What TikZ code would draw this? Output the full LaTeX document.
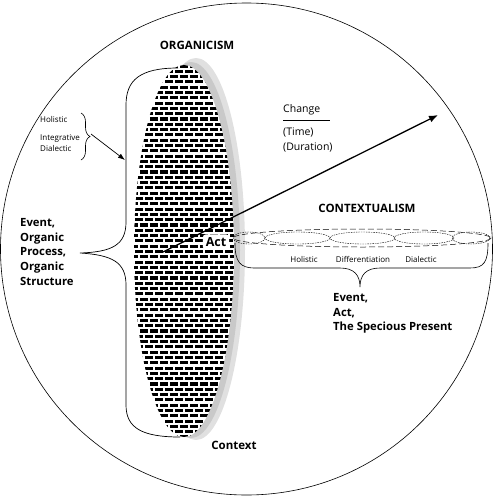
\documentclass[tikz,border=0pt]{standalone}
\usepackage{fontspec}
\setmainfont{Open Sans}
\usetikzlibrary{arrows,arrows.meta,decorations.pathreplacing,calc,positioning}
\newcommand{\rowgap}{5.3}
\tikzset{
    headsty/.style={font=\bfseries\fontsize{11.5}{13}\selectfont},
    bigsty/.style={font=\bfseries\fontsize{11.3}{14.8}\selectfont, align=left, inner sep=0pt},
    smallsty/.style={font=\fontsize{8}{11.5}\selectfont, inner sep=0pt},
    midsty/.style={font=\fontsize{10.5}{12}\selectfont, inner sep=0pt},
    bricksty/.style={line width=3.1pt, dash pattern=on 7.8pt off 2.2pt},
    shadowsty/.style={fill=black!12},
    innershadowsty/.style={fill=black!21},
    outersty/.style={dash pattern=on 6pt off 3pt, line width=0.5pt},
    innersty/.style={dash pattern=on 1.5pt off 1pt, line width=0.4pt},
    lbrcsty/.style={decorate, decoration={brace,amplitude=9pt}, line width=0.6pt},
    actsty/.style={fill=white, rounded corners=3pt, font=\bfseries\fontsize{12.5}{14}\selectfont, inner sep=3pt},
}

\begin{document}
\begin{tikzpicture}[x=1pt,y=-1pt,>=latex]
  \useasboundingbox (0,0) rectangle (493,498);
  \draw[line width=0.6pt] (246.5,249) circle (246);

  % organicism ellipse
  \fill[shadowsty] (196,249) ellipse [x radius=49, y radius=191];
  \fill[innershadowsty] (191,250) ellipse [x radius=49, y radius=188];
  \fill[white] (184,251) ellipse [x radius=50, y radius=186];
  \begin{scope}
    \clip (184,251) ellipse [x radius=50, y radius=186];
    \foreach \i [evaluate=\i as \ph using {mod(\i,2)*5}] in {0,...,71}
      \draw[bricksty, dash phase=\ph pt] (130,66+\i*\rowgap) -- (240,66+\i*\rowgap);
  \end{scope}

  % left bracket
  \draw[line width=0.7pt] (178,68) .. controls (140,68) and (126,80) .. (126,105) -- (126,222)
    .. controls (126,245) and (112,252) .. (80,253) .. controls (112,255) and (126,262) .. (126,285)
    -- (126,405) .. controls (126,428) and (142,437) .. (180,437);

  \node[headsty] (org) at (197,45) {ORGANICISM};
  \node[bigsty, anchor=west] (evo) at (20,252) {Event,\\Organic\\Process,\\Organic\\Structure};
  \node[headsty] (ctx) at (234,445) {Context};

  % small brace
  \node[smallsty, anchor=west] (hol) at (40,119) {Holistic};
  \node[smallsty, anchor=north west, align=left] (intd) at (40,134) {Integrative\\Dialectic};
  \draw[lbrcsty] (81,113) -- (81,160);
  \coordinate (brtip) at (91,134);
  \coordinate (lbr) at (125,160);
  \draw[-{Latex[length=7pt,width=5pt]}, line width=0.7pt] (brtip) -- (lbr);

  % change arrow
  \coordinate (chs) at (163,252);
  \coordinate (che) at (438,115);
  \draw[-{Latex[length=9pt,width=7pt]}, line width=1.3pt] (chs) -- (che);
  \node[actsty] (act) at (216,242) {Act};

  \node[midsty, anchor=west] (chg) at (283,110) {Change};
  \node[midsty, anchor=west] (tim) at (283,132) {(Time)};
  \node[midsty, anchor=west] (dur) at (283,147) {(Duration)};
  \draw[line width=0.5pt] (283,120) -- (330,120);

  % contextualism
  \node[headsty] (cnt) at (367,208) {CONTEXTUALISM};
  \draw[outersty] (362,238) ellipse [x radius=129, y radius=9];
  \foreach \cx/\rx in {249/16, 297.5/32.5, 362.5/32.5, 424/30, 471/19}
    \draw[innersty] (\cx,238) ellipse [x radius=\rx, y radius=6];

  \draw[line width=0.6pt] (235,243) .. controls (235,262) and (240,268) .. (255,268) -- (340,268)
    .. controls (354,268) and (360,275) .. (360,287) .. controls (360,275) and (366,268) .. (380,268)
    -- (470,268) .. controls (484,268) and (488,262) .. (488,243);

  \node[smallsty] (hol2) at (304,259) {Holistic};
  \node[smallsty] (dif) at (363,259) {Differentiation};
  \node[smallsty] (dia) at (421,259) {Dialectic};
  \node[bigsty, anchor=north west] (eas) at (333,293) {Event,\\Act,\\The Specious Present};
\end{tikzpicture}
\end{document}
